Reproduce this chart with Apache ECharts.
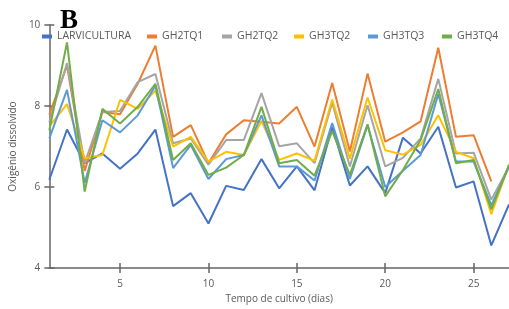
<!DOCTYPE html>
<html>
<head>
<meta charset="utf-8">
<script src="https://cdn.jsdelivr.net/npm/echarts@6/dist/echarts.min.js"></script>
<style>
  html, body { margin: 0; padding: 0; background: #fff; }
  #main { width: 509px; height: 309px; }
</style>
</head>
<body>
<div id="main"></div>
<script>
// dias de cultivo
const days = ['1', '2', '3', '4', '5', '6', '7', '8', '9', '10', '11', '12', '13', '14',
  '15', '16', '17', '18', '19', '20', '21', '22', '23', '24', '25', '26', '27'];
const yTicks = [4, 6, 8, 10];

const larvicultura = [6.18, 7.42, 6.59, 6.83, 6.45, 6.83, 7.42, 5.53, 5.85, 5.10, 6.03, 5.93, 6.69, 5.97,
  6.51, 5.92, 7.48, 6.04, 6.51, 5.85, 7.22, 6.83, 7.49, 5.99, 6.14, 4.56, 5.57];
const gh2tq1 = [7.79, 9.00, 6.40, 7.85, 7.80, 8.55, 9.49, 7.24, 7.53, 6.59, 7.30, 7.65, 7.61, 7.57,
  7.98, 7.00, 8.57, 6.88, 8.80, 7.12, 7.35, 7.62, 9.44, 7.24, 7.28, 6.14, null];
const gh2tq2 = [7.60, 9.06, 6.59, 7.85, 7.88, 8.59, 8.79, 7.08, 7.20, 6.55, 7.16, 7.16, 8.32, 7.01,
  7.08, 6.59, 8.08, 6.51, 8.02, 6.51, 6.72, 7.20, 8.67, 6.83, 6.85, 5.69, 6.50];
const gh3tq2 = [7.50, 8.05, 6.71, 6.79, 8.15, 7.93, 8.38, 7.00, 7.24, 6.63, 6.87, 6.79, 7.63, 6.67,
  6.83, 6.65, 8.16, 6.70, 8.21, 6.91, 6.80, 7.04, 7.77, 6.87, 6.71, 5.33, 6.55];
const gh3tq3 = [7.20, 8.40, 6.10, 7.65, 7.35, 7.77, 8.50, 6.47, 7.04, 6.20, 6.69, 6.79, 7.77, 6.51,
  6.51, 6.16, 7.58, 6.20, 7.53, 6.00, 6.40, 6.79, 8.30, 6.63, 6.63, 5.55, 6.50];
const gh3tq4 = [7.40, 9.57, 5.89, 7.93, 7.57, 7.98, 8.55, 6.67, 7.08, 6.30, 6.48, 6.79, 7.98, 6.59,
  6.67, 6.28, 7.38, 6.30, 7.55, 5.77, 6.42, 7.16, 8.42, 6.59, 6.67, 5.45, 6.55];

const names = ['LARVICULTURA', 'GH2TQ1', 'GH2TQ2', 'GH3TQ2', 'GH3TQ3', 'GH3TQ4'];
const colors = ['#4472C4', '#ED7D31', '#A5A5A5', '#FFC000', '#5B9BD5', '#70AD47'];
const values = [larvicultura, gh2tq1, gh2tq2, gh3tq2, gh3tq3, gh3tq4];
// onde começa cada item da legenda
const legendLefts = [42, 147, 222, 294, 368, 442];

const axisColor = '#666666';
const textColor = '#595959';
const font = '"Open Sans", sans-serif';

const chart = echarts.init(document.getElementById('main'), null, { renderer: 'canvas' });

const everyFive = function (idx, val) {
  return Number(val) % 5 === 0;
};

function legendItem(name, left) {
  return {
    data: [name],
    left: left,
    top: 31,
    padding: 0,
    icon: 'rect',
    itemWidth: 10,
    itemHeight: 4,
    textStyle: { color: textColor, fontSize: 10.5, fontFamily: font }
  };
}

let option = {
  animation: false,
  color: colors,
  grid: { left: 36, right: 0, top: 25, bottom: 36 },
  legend: names.map(function (name, i) {
    return legendItem(name, legendLefts[i]);
  }),
  graphic: [{
    type: 'text',
    left: 60,
    top: 8,
    style: { text: 'B', font: 'bold 27px "Liberation Serif", serif', fill: '#000' }
  }],
  xAxis: [{
    type: 'category',
    data: days,
    boundaryGap: false,
    name: 'Tempo de cultivo (dias)',
    nameLocation: 'middle',
    nameGap: 25,
    nameTextStyle: { color: textColor, fontSize: 10, fontFamily: font },
    axisLine: { lineStyle: { color: axisColor, width: 1.5 } },
    axisTick: { interval: everyFive, length: 5, lineStyle: { color: axisColor, width: 1.5 } },
    axisLabel: { interval: everyFive, color: textColor, fontSize: 10, fontFamily: font, margin: 11 }
  }, {
    type: 'category',
    data: days,
    boundaryGap: false,
    position: 'bottom',
    axisLine: { show: false },
    axisTick: { interval: everyFive, inside: true, length: 5, lineStyle: { color: axisColor, width: 1.5 } },
    axisLabel: { show: false }
  }],
  yAxis: [{
    type: 'value',
    min: yTicks[0],
    max: yTicks[yTicks.length - 1],
    interval: 2,
    name: 'Oxigênio dissolvido',
    nameLocation: 'middle',
    nameGap: 16,
    nameTextStyle: { color: textColor, fontSize: 10, fontFamily: font },
    splitLine: { show: false },
    axisLine: { show: true, lineStyle: { color: axisColor, width: 1.5 } },
    axisTick: { show: true, length: 5, lineStyle: { color: axisColor, width: 1.5 } },
    axisLabel: { color: textColor, fontSize: 10, fontFamily: font, margin: 9 }
  }, {
    type: 'value',
    min: yTicks[0],
    max: yTicks[yTicks.length - 1],
    interval: 2,
    position: 'left',
    splitLine: { show: false },
    axisLine: { show: false },
    axisTick: { show: true, inside: true, length: 5, lineStyle: { color: axisColor, width: 1.5 } },
    axisLabel: { show: false }
  }],
  series: names.map(function (name, i) {
    return {
      name: name,
      type: 'line',
      data: values[i],
      symbol: 'none',
      connectNulls: false,
      lineStyle: { width: 2, color: colors[i] },
      itemStyle: { color: colors[i] }
    };
  })
};

chart.setOption(option);
</script>
</body>
</html>
